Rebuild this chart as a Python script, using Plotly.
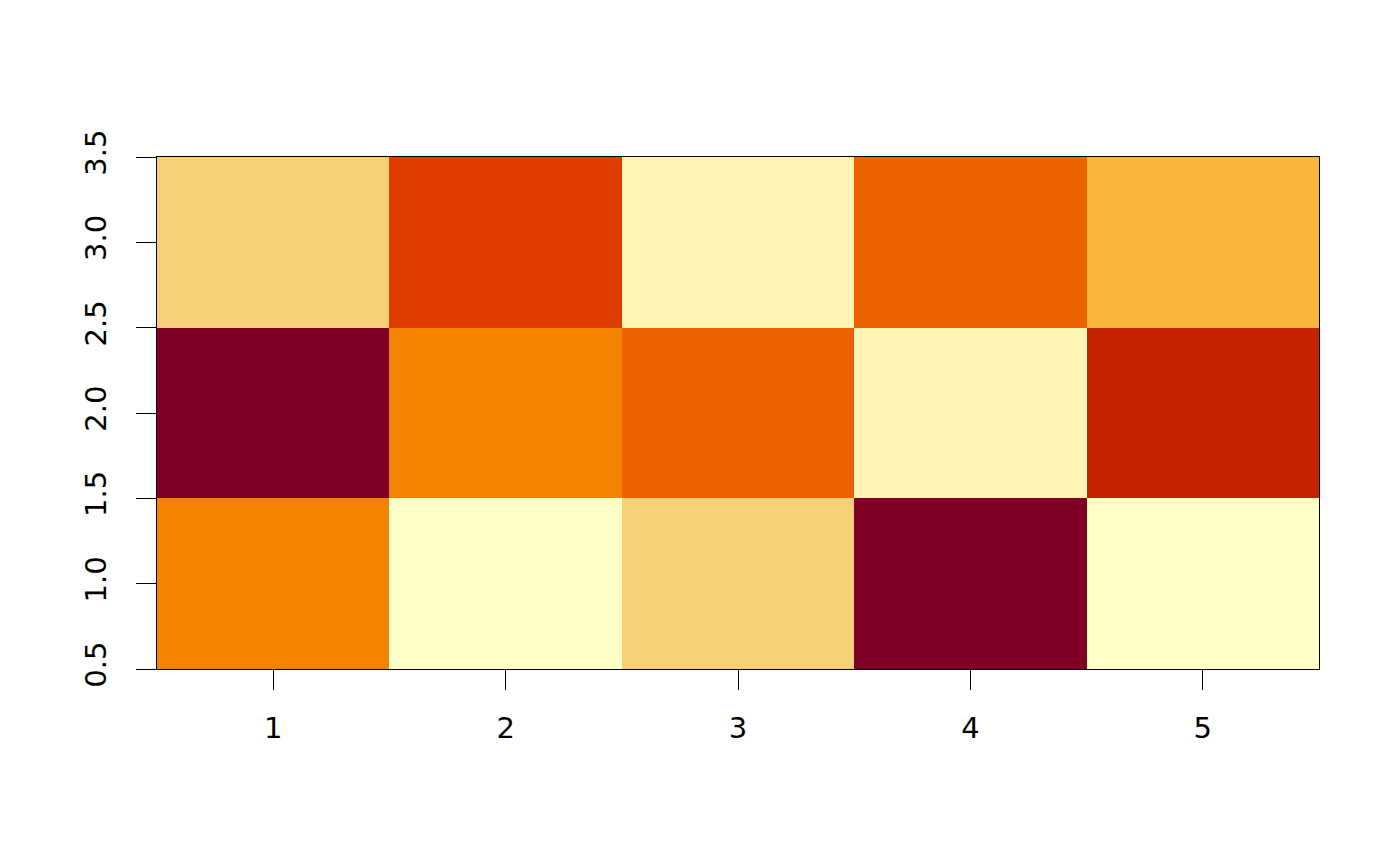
import plotly.graph_objects as go

x_vals = [1, 2, 3, 4, 5]
y_vals = [1, 2, 3]
# level index per cell (rows = y from bottom to top)
z_row1 = [5, 1, 3, 9, 1]
z_row2 = [9, 5, 6, 2, 8]
z_row3 = [3, 7, 2, 6, 4]
palette = ["#FFFFC8", "#FEF3B5", "#F6D077", "#F6B73C", "#F38200",
           "#EC6200", "#E03C00", "#C22500", "#7E0025"]
x_ticks = [1, 2, 3, 4, 5]
y_ticks = [0.5, 1.0, 1.5, 2.0, 2.5, 3.0, 3.5]
y_ticktext = ["0.5", "1.0", "1.5", "2.0", "2.5", "3.0", "3.5"]

n = len(palette)
colorscale = []
for i, c in enumerate(palette):
    colorscale.append([i / n, c])
    colorscale.append([(i + 1) / n, c])

fig = go.Figure(go.Heatmap(
    x=x_vals, y=y_vals, z=[z_row1, z_row2, z_row3],
    colorscale=colorscale, zmin=0.5, zmax=n + 0.5,
    showscale=False, hoverinfo="skip",
))

font = dict(family="DejaVu Sans", size=29, color="black")
fig.update_layout(
    width=1400, height=866,
    margin=dict(l=149, r=89, t=149, b=205),
    paper_bgcolor="white", plot_bgcolor="white",
    font=font,
)
fig.update_xaxes(
    range=[0.5, 5.5], tickvals=x_ticks, ticks="outside", ticklen=20,
    tickwidth=1.3, tickcolor="black", showline=True, linecolor="black",
    linewidth=1.3, mirror=True, showgrid=False, zeroline=False,
    ticklabelstandoff=13, tickfont=font,
)
fig.update_yaxes(
    range=[0.5, 3.5], tickvals=y_ticks, ticktext=y_ticktext, ticks="outside",
    ticklen=20, tickwidth=1.3, tickcolor="black", showline=True,
    linecolor="black", linewidth=1.3, mirror=True, showgrid=False,
    zeroline=False, tickangle=-90, ticklabelstandoff=18, tickfont=font,
)
fig.write_html("out.html")
